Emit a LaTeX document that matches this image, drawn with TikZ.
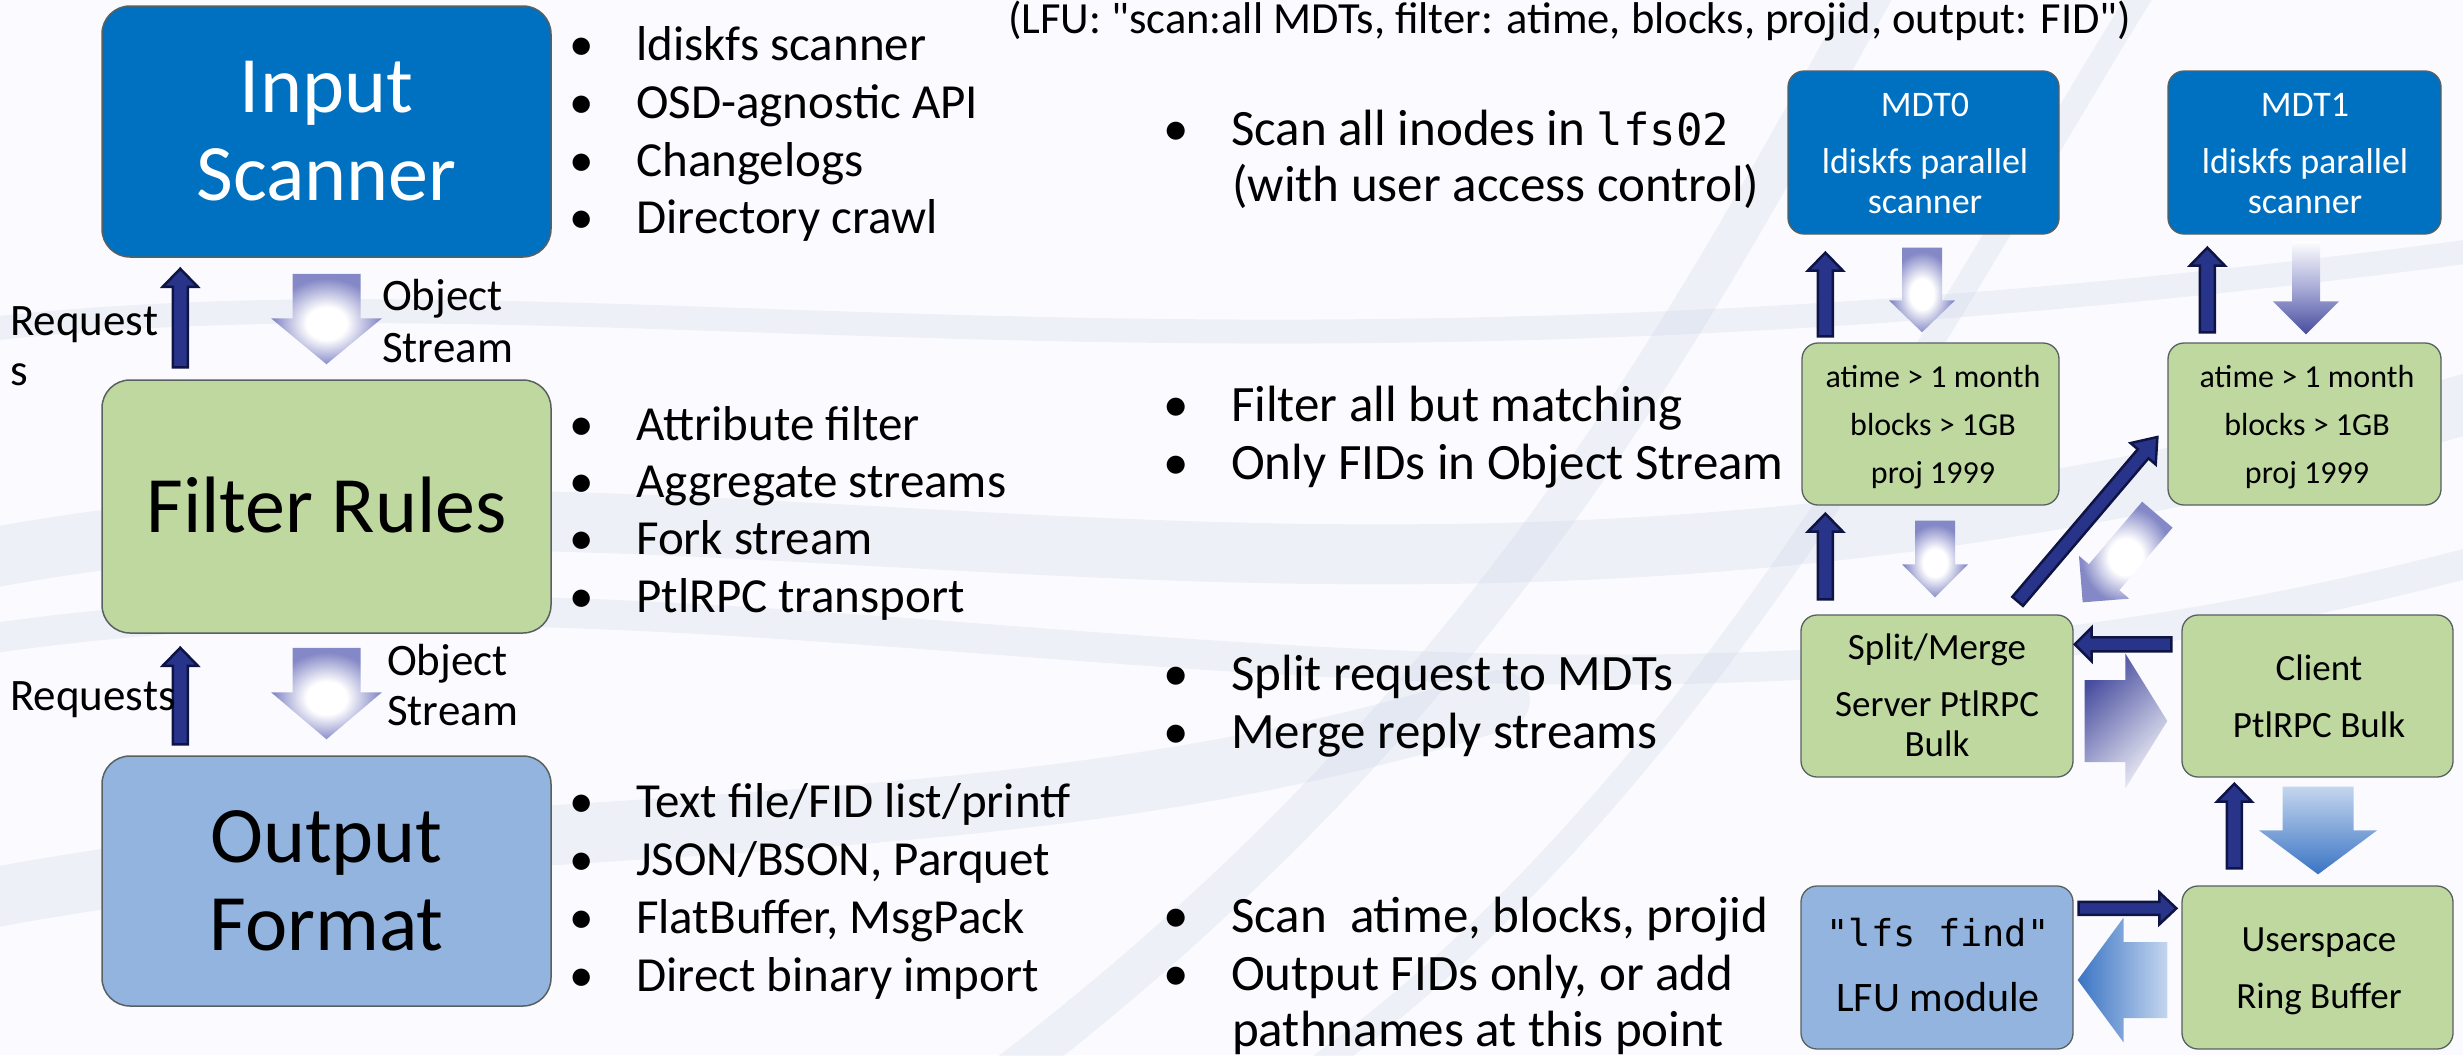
\documentclass[tikz,border=0pt]{standalone}
\usepackage{fontspec}
\setmainfont{Carlito}[Ligatures=TeXOff]
\newfontfamily\monof{DejaVu Sans Mono}
\usetikzlibrary{calc}
\definecolor{mblue}{RGB}{0,112,192}
\definecolor{mgreen}{RGB}{190,216,160}
\definecolor{lblue}{RGB}{146,180,222}
\definecolor{navy}{RGB}{40,52,138}
\definecolor{navyd}{RGB}{14,20,68}
\definecolor{glowc}{RGB}{132,136,198}
\definecolor{gradn}{RGB}{70,76,158}
\definecolor{bdark}{RGB}{58,116,196}
\definecolor{blite}{RGB}{196,214,238}
\definecolor{bgw}{RGB}{190,200,222}
\definecolor{boxline}{RGB}{88,96,96}
\pgfdeclareradialshading{glowsh}{\pgfpoint{0bp}{-3bp}}{color(0bp)=(white);color(9bp)=(white);color(24bp)=(glowc);color(50bp)=(glowc)}
\newcommand\myfs[1]{\fontsize{#1pt}{#1pt}\selectfont}
% block arrow: #1 style, #2 tail, #3 tip, #4 shaft width, #5 head width, #6 head length
\newcommand\barrow[6]{%
  \path let \p1=#2, \p2=#3, \n1={atan2(\y2-\y1,\x2-\x1)}, \n2={veclen(\x2-\x1,\y2-\y1)} in
    \pgfextra{\xdef\bAx{\x1}\xdef\bAy{\y1}\xdef\bAng{\n1}\xdef\bLen{\n2}};
  \begin{scope}[shift={(\bAx,\bAy)}, rotate=\bAng]
    \path[#1] (0,{-#4/2}) -- ({\bLen-#6},{-#4/2}) -- ({\bLen-#6},{-#5/2}) -- (\bLen,0)
      -- ({\bLen-#6},{#5/2}) -- ({\bLen-#6},{#4/2}) -- (0,{#4/2}) -- cycle;
  \end{scope}}
\newcommand\bitem[4]{\node[txt] (#3) at ({#1-20},#2) {\makebox[40pt][c]{•}\hspace{35pt}#4};}
\begin{document}
\begin{tikzpicture}[x=1pt,y=-1pt,
  bigbox/.style={draw=boxline, line width=1.5pt, rounded corners=28pt, inner sep=0pt},
  smbox/.style={draw=boxline, line width=1.3pt, rounded corners=16pt, inner sep=0pt},
  txt/.style={inner sep=0pt, anchor=base west},
  ctxt/.style={inner sep=0pt, anchor=base},
  navyarr/.style={fill=navy, draw=navyd, line width=2.5pt, line join=miter},
  glowarr/.style={shading=glowsh},
  bgwave/.style={draw=bgw, opacity=0.2, line cap=round},
]
\useasboundingbox (0,0) rectangle (2463,1055);
\fill[white!96!blue!40!white] (0,0) rectangle (2463,1055);
% background waves
\draw[bgwave, line width=60pt] (-20,560) .. controls (700,420) and (1400,720) .. (2480,400);
\draw[bgwave, line width=30pt] (-20,640) .. controls (800,520) and (1500,820) .. (2480,560);
\draw[bgwave, line width=40pt] (1000,1080) .. controls (1500,700) and (1700,300) .. (1880,-20);
\draw[bgwave, line width=24pt] (1300,1080) .. controls (1700,800) and (1950,300) .. (2150,-20);
\draw[bgwave, line width=60pt] (-20,900) .. controls (500,800) and (1000,860) .. (1500,700);
\draw[bgwave, line width=24pt] (-20,330) .. controls (600,260) and (1200,420) .. (2480,250);

% ---------- left column boxes ----------
\node[bigbox, fill=mblue, minimum width=449pt, minimum height=251pt] (ins) at (326.5,131.5) {};
\node[bigbox, fill=mgreen, minimum width=449pt, minimum height=253pt] (filt) at (326.5,506.5) {};
\node[bigbox, fill=lblue, minimum width=449pt, minimum height=250pt] (outf) at (326.5,881) {};
\node[ctxt, text=white, font=\myfs{80}] (insT1) at (326.5,112) {Input};
\node[ctxt, text=white, font=\myfs{80}] (insT2) at (326.5,200) {Scanner};
\node[ctxt, font=\myfs{80}] (filtT) at (326.5,532) {Filter Rules};
\node[ctxt, font=\myfs{80}] (outT1) at (326.5,862) {Output};
\node[ctxt, font=\myfs{80}] (outT2) at (326.5,950) {Format};

% left arrows
\barrow{navyarr}{($(filt.north west)+(79,-12)$)}{($(ins.south west)+(79,11)$)}{15}{35}{18}
\barrow{glowarr}{($(ins.south)+(0,16)$)}{($(filt.north)+(0,-15)$)}{68}{111}{46}
\barrow{navyarr}{($(outf.north west)+(79,-11)$)}{($(filt.south west)+(79,14)$)}{15}{35}{18}
\barrow{glowarr}{($(filt.south)+(0,14)$)}{($(outf.north)+(0,-16)$)}{68}{111}{47}

% left labels
\node[txt, font=\myfs{45}] (req1a) at (10,335) {Request};
\node[txt, font=\myfs{45}] (req1b) at (10,385) {s};
\node[txt, font=\myfs{45}] (obj1a) at (382,310) {Object};
\node[txt, font=\myfs{45}] (obj1b) at (382,362) {Stream};
\node[txt, font=\myfs{45}] (req2) at (10,710) {Requests};
\node[txt, font=\myfs{45}] (obj2a) at (387,675) {Object};
\node[txt, font=\myfs{45}] (obj2b) at (387,725) {Stream};

% left bullets
\begin{scope}[font=\myfs{49}]
\bitem{581}{60}{lb1}{ldiskfs scanner}
\bitem{581}{118}{lb2}{OSD-agnostic API}
\bitem{581}{176}{lb3}{Changelogs}
\bitem{581}{233}{lb4}{Directory crawl}
\bitem{581}{440}{lb5}{Attribute filter}
\bitem{581}{497}{lb6}{Aggregate streams}
\bitem{581}{554}{lb7}{Fork stream}
\bitem{581}{612}{lb8}{PtlRPC transport}
\bitem{581}{817}{lb9}{Text file/FID list/printf}
\bitem{581}{875}{lb10}{JSON/BSON, Parquet}
\bitem{581}{933}{lb11}{FlatBuffer, MsgPack}
\bitem{581}{991}{lb12}{Direct binary import}
\end{scope}

% caption
\node[txt, font=\myfs{44.5}] (cap) at (1008,33) {(LFU: "scan:all MDTs, filter: atime, blocks, projid, output: FID")};

% right bullets
\begin{scope}[font=\myfs{51}]
\bitem{1176}{145}{rb1}{Scan all inodes in {\monof\myfs{44}lfs02}}
\node[txt] (rb1b) at (1232,201) {(with user access control)};
\bitem{1176}{421}{rb2}{Filter all but matching}
\bitem{1176}{479}{rb3}{Only FIDs in Object Stream}
\bitem{1176}{690}{rb4}{Split request to MDTs}
\bitem{1176}{748}{rb5}{Merge reply streams}
\bitem{1176}{932}{rb6}{Scan~ atime, blocks, projid}
\bitem{1176}{990}{rb7}{Output FIDs only, or add}
\node[txt] (rb7b) at (1232,1046) {pathnames at this point};
\end{scope}

% ---------- right diagram boxes ----------
\node[smbox, fill=mblue, minimum width=271pt, minimum height=163pt] (mdt0) at (1923.5,152.5) {};
\node[smbox, fill=mblue, minimum width=273pt, minimum height=163pt] (mdt1) at (2304.5,152.5) {};
\node[smbox, fill=mgreen, minimum width=257pt, minimum height=162pt] (flt0) at (1930.5,424) {};
\node[smbox, fill=mgreen, minimum width=273pt, minimum height=162pt] (flt1) at (2304.5,424) {};
\node[smbox, fill=mgreen, minimum width=272pt, minimum height=162pt] (split) at (1937,696) {};
\node[smbox, fill=mgreen, minimum width=271pt, minimum height=162pt] (client) at (2317.5,696) {};
\node[smbox, fill=lblue, minimum width=272pt, minimum height=163pt] (lfsf) at (1937,967.5) {};
\node[smbox, fill=mgreen, minimum width=271pt, minimum height=163pt] (ring) at (2317.5,967.5) {};

\begin{scope}[font=\myfs{36}, text=white]
\node[ctxt] (m0a) at (1925,116) {MDT0};
\node[ctxt] (m0b) at (1925,173) {ldiskfs parallel};
\node[ctxt] (m0c) at (1925,213) {scanner};
\node[ctxt] (m1a) at (2305,116) {MDT1};
\node[ctxt] (m1b) at (2305,173) {ldiskfs parallel};
\node[ctxt] (m1c) at (2305,213) {scanner};
\end{scope}
\begin{scope}[font=\myfs{32}]
\node[ctxt] (f0a) at (1933,387) {atime > 1 month};
\node[ctxt] (f0b) at (1933,435) {blocks > 1GB};
\node[ctxt] (f0c) at (1933,483) {proj 1999};
\node[ctxt] (f1a) at (2307,387) {atime > 1 month};
\node[ctxt] (f1b) at (2307,435) {blocks > 1GB};
\node[ctxt] (f1c) at (2307,483) {proj 1999};
\end{scope}
\begin{scope}[font=\myfs{37}]
\node[ctxt] (sa) at (1937,659) {Split/Merge};
\node[ctxt] (sb) at (1937,716) {Server PtlRPC};
\node[ctxt] (sc) at (1937,756) {Bulk};
\node[ctxt] (ca) at (2319,680) {Client};
\node[ctxt] (cb) at (2319,737) {PtlRPC Bulk};
\node[ctxt] (ra) at (2319,951) {Userspace};
\node[ctxt] (rbb) at (2319,1008) {Ring Buffer};
\end{scope}
\node[ctxt, font=\monof\myfs{37}] (la) at (1938,946) {"lfs find"};
\node[ctxt, font=\myfs{42}] (lb) at (1938,1011) {LFU module};

% right arrows
\barrow{navyarr}{($(flt0.north west)+(24,-6)$)}{($(mdt0.south west)+(38,18)$)}{15}{35}{18}
\barrow{glowarr}{($(mdt0.south)+(-1.5,13)$)}{($(flt0.north)+(-8.5,-10)$)}{40}{66}{32}
\barrow{navyarr}{($(flt1.north west)+(40,-10)$)}{($(mdt1.south west)+(40,13)$)}{15}{35}{18}
\barrow{top color=white, bottom color=gradn, middle color=glowc!70!white}{($(mdt1.south)+(1.5,6)$)}{($(flt1.north)+(1.5,-8)$)}{28}{66}{33}
\barrow{navyarr}{($(split.north west)+(25,-15)$)}{($(flt0.south west)+(24,8)$)}{15}{35}{18}
\barrow{glowarr}{($(flt0.south)+(4.5,15)$)}{($(split.north)+(-2,-17)$)}{40}{66}{33}
\barrow{navyarr}{($(split.north east)+(-56,-13)$)}{($(flt1.west)+(-10,13)$)}{14}{33}{22}
\barrow{glowarr}{($(flt1.south west)+(-10,9)$)}{($(split.north east)+(9,-12)$)}{40}{66}{33}
\barrow{navyarr}{($(client.north west)+(-10,30)$)}{($(split.north east)+(1,30)$)}{14}{34}{17}
\barrow{top color=gradn, bottom color=white!92!gradn, shading angle=45}{($(split.east)+(11,25)$)}{($(client.west)+(-14,25)$)}{82}{135}{42}
\barrow{navyarr}{($(ring.north west)+(53,-17)$)}{($(client.south west)+(53,6)$)}{15}{35}{18}
\barrow{top color=blite, bottom color=bdark}{($(client.south)+(0.5,9)$)}{($(ring.north)+(0.5,-11)$)}{71}{118}{44}
\barrow{navyarr}{($(lfsf.north east)+(5,23)$)}{($(ring.north west)+(-5,23)$)}{13}{32}{17}
\barrow{left color=bdark, right color=blite}{($(ring.west)+(-14,12.5)$)}{($(lfsf.east)+(4,12.5)$)}{76}{125}{46}
\end{tikzpicture}
\end{document}
